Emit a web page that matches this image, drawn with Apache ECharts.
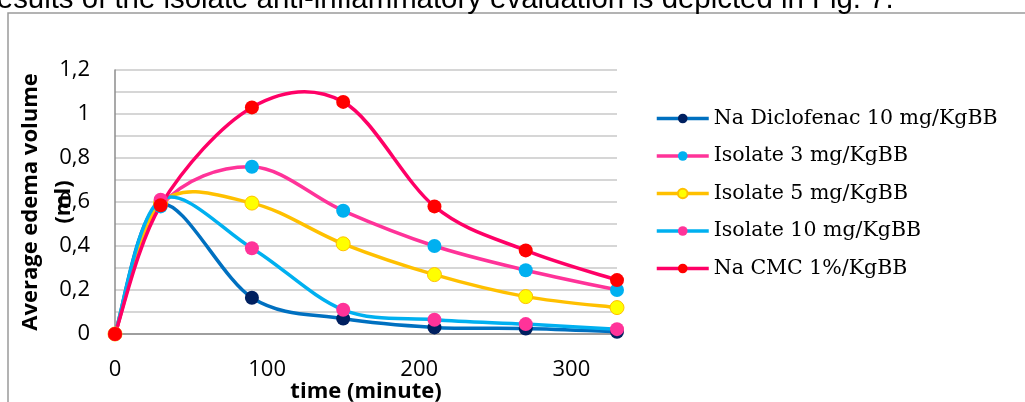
<!DOCTYPE html>
<html>
<head>
<meta charset="utf-8">
<script src="https://cdn.jsdelivr.net/npm/echarts@6/dist/echarts.min.js"></script>
<style>
  html, body { margin: 0; padding: 0; background: #fff; }
  #chart { width: 1025px; height: 402px; }
</style>
</head>
<body>
<div id="chart"></div>
<script>
// Time after treatment (minutes)
const times = [0, 30, 90, 150, 210, 270, 330];

// Average edema volume (ml) per group
const diclofenac10 = [0, 0.59, 0.165, 0.07, 0.03, 0.025, 0.01];
const isolate3 = [0, 0.58, 0.76, 0.56, 0.40, 0.29, 0.20];
const isolate5 = [0, 0.595, 0.595, 0.41, 0.27, 0.17, 0.12];
const isolate10 = [0, 0.61, 0.39, 0.11, 0.065, 0.045, 0.022];
const cmc1 = [0, 0.585, 1.03, 1.055, 0.58, 0.38, 0.245];

const groupNames = [
  'Na Diclofenac 10 mg/KgBB',
  'Isolate 3 mg/KgBB',
  'Isolate 5 mg/KgBB',
  'Isolate 10 mg/KgBB',
  'Na CMC 1%/KgBB'
];
const groupValues = [diclofenac10, isolate3, isolate5, isolate10, cmc1];

const lineColors = ['#0070C0', '#FF3399', '#FFC000', '#00B0F0', '#FF0066'];
const markerColors = ['#002060', '#00B0F0', '#FFFF00', '#FF3399', '#FF0000'];
const markerBorders = [null, null, '#FFC000', null, null];

const caption = 'results of the isolate anti-inflammatory evaluation is depicted in Fig. 7.';

const chart = echarts.init(document.getElementById('chart'), null, { renderer: 'canvas' });

// Smoothed curve: each segment is a cubic Bezier whose control points follow
// the neighbouring points (Catmull-Rom style), placed through the axes' scale.
function curveRenderer(color) {
  return function (params, api) {
    const i = params.dataIndexInside;
    const n = params.dataInsideLength;
    if (i >= n - 1) return null;
    const pt = (k) => {
      k = Math.max(0, Math.min(n - 1, k));
      return api.coord([api.value(0, k), api.value(1, k)]);
    };
    const p0 = pt(i - 1), p1 = pt(i), p2 = pt(i + 1), p3 = pt(i + 2);
    const t = 1 / 6;
    return {
      type: 'bezierCurve',
      shape: {
        x1: p1[0], y1: p1[1],
        x2: p2[0], y2: p2[1],
        cpx1: p1[0] + (p2[0] - p0[0]) * t,
        cpy1: p1[1] + (p2[1] - p0[1]) * t,
        cpx2: p2[0] - (p3[0] - p1[0]) * t,
        cpy2: p2[1] - (p3[1] - p1[1]) * t
      },
      style: { stroke: color, lineWidth: 3.5, fill: null, lineCap: 'round' },
      silent: true
    };
  };
}

const series = [];
groupNames.forEach((name, g) => {
  const pts = times.map((t, i) => [t, groupValues[g][i]]);
  series.push({
    type: 'custom',
    name: name + ' curve',
    data: pts,
    renderItem: curveRenderer(lineColors[g]),
    encode: { x: 0, y: 1 },
    silent: true
  });
  series.push({
    type: 'line',
    name: name,
    data: pts,
    symbol: 'circle',
    symbolSize: 14,
    showAllSymbol: true,
    lineStyle: { color: lineColors[g], width: 3.5, opacity: 0 },
    itemStyle: {
      color: markerColors[g],
      borderColor: markerBorders[g] || markerColors[g],
      borderWidth: markerBorders[g] ? 1 : 0
    },
    emphasis: { disabled: true }
  });
});

chart.setOption({
  animation: false,
  backgroundColor: '#ffffff',
  graphic: [
    {
      type: 'rect',
      shape: { x: 8, y: 13, width: 1200, height: 600 },
      style: { fill: null, stroke: '#9a9a9a', lineWidth: 1.5 },
      silent: true, z: -1
    },
    {
      type: 'text',
      left: -13, top: -15,
      style: {
        text: caption,
        font: '29.4px "Liberation Sans", Arial, sans-serif',
        fill: '#000'
      },
      silent: true
    }
  ],
  grid: { left: 115, right: 408, top: 70, bottom: 68, containLabel: false, outerBoundsMode: 'none' },
  legend: {
    orient: 'vertical',
    left: 655,
    top: 108,
    padding: 0,
    itemWidth: 52,
    itemHeight: 12,
    itemGap: 16.5,
    data: groupNames,
    lineStyle: { opacity: 1, width: 3.5 },
    textStyle: {
      fontFamily: '"DejaVu Serif", serif',
      fontSize: 20.5,
      lineHeight: 20,
      color: '#000'
    }
  },
  xAxis: {
    type: 'value',
    min: 0,
    max: 330,
    interval: 100,
    name: 'time (minute)',
    nameLocation: 'middle',
    nameGap: 47,
    nameMoveOverlap: false,
    nameTextStyle: {
      fontFamily: '"Open Sans", sans-serif',
      fontWeight: 'bold',
      fontSize: 22,
      color: '#000'
    },
    axisLine: { show: true, lineStyle: { color: '#8c8c8c', width: 1.5 } },
    axisTick: { show: false },
    splitLine: { show: false },
    axisLabel: {
      margin: 25,
      fontFamily: '"Open Sans", sans-serif',
      fontSize: 22,
      color: '#000',
      showMaxLabel: false
    }
  },
  yAxis: {
    type: 'value',
    min: 0,
    max: 1.2,
    interval: 0.1,
    name: 'Average edema volume\n(ml)',
    nameLocation: 'middle',
    nameRotate: 90,
    nameGap: 35,
    nameMoveOverlap: false,
    nameTextStyle: {
      fontFamily: '"Open Sans", sans-serif',
      fontWeight: 'bold',
      fontSize: 22,
      lineHeight: 33,
      color: '#000'
    },
    axisLine: { show: true, lineStyle: { color: '#8c8c8c', width: 1.5 } },
    axisTick: { show: false },
    splitLine: { show: true, lineStyle: { color: '#c8c8c8', width: 1.5 } },
    axisLabel: {
      margin: 25,
      fontFamily: '"Open Sans", sans-serif',
      fontSize: 22,
      color: '#000',
      formatter: function (v) {
        const k = Math.round(v * 10);
        if (k % 2 !== 0) return '';
        return String(k / 10).replace('.', ',');
      }
    }
  },
  series: series
});
</script>
</body>
</html>
